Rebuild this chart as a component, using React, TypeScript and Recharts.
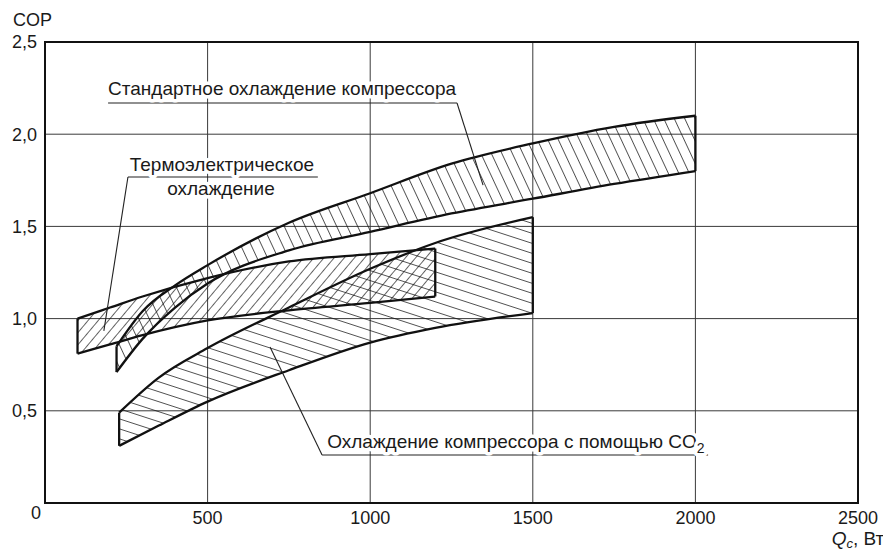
import React from 'react';
import {
  ComposedChart,
  Area,
  XAxis,
  YAxis,
  CartesianGrid,
  ReferenceLine,
  ReferenceDot,
  ReferenceArea,
} from 'recharts';

// ---- data (COP vs Qc, W) ----
const stdX = [220, 300, 400, 500, 750, 1000, 1250, 1500, 1750, 2000];
const stdLow = [0.71, 0.89, 1.06, 1.19, 1.37, 1.47, 1.57, 1.65, 1.73, 1.8];
const stdHigh = [0.85, 1.04, 1.18, 1.29, 1.52, 1.68, 1.84, 1.95, 2.04, 2.1];

const thermoX = [100, 200, 300, 500, 750, 1000, 1200];
const thermoLow = [0.81, 0.86, 0.91, 0.99, 1.045, 1.085, 1.12];
const thermoHigh = [1.0, 1.06, 1.12, 1.22, 1.31, 1.35, 1.38];

const co2X = [228, 350, 500, 750, 1000, 1200, 1500];
const co2Low = [0.31, 0.42, 0.55, 0.72, 0.87, 0.95, 1.03];
const co2High = [0.49, 0.68, 0.84, 1.06, 1.27, 1.41, 1.55];

const xTicks = [0, 500, 1000, 1500, 2000, 2500];
const yTicks = [0.5, 1.0, 1.5, 2.0, 2.5];

const stdLabel = 'Стандартное охлаждение компрессора';
const thermoLabel1 = 'Термоэлектрическое';
const thermoLabel2 = 'охлаждение';
const co2Label = 'Охлаждение компрессора с помощью CO';
const yTitle = 'COP';

const FONT = '"Liberation Sans", Arial, Helvetica, sans-serif';
const TXT = '#1a1a1a';

const band = (xs: number[], lo: number[], hi: number[]) =>
  xs.map((x, i) => ({ x, range: [lo[i], hi[i]] }));

const stdData = band(stdX, stdLow, stdHigh);
const thermoData = band(thermoX, thermoLow, thermoHigh);
const co2Data = band(co2X, co2Low, co2High);

const endCaps = (xs: number[], lo: number[], hi: number[]) => {
  const n = xs.length - 1;
  return [
    [{ x: xs[0], y: lo[0] }, { x: xs[0], y: hi[0] }],
    [{ x: xs[n], y: lo[n] }, { x: xs[n], y: hi[n] }],
  ];
};

const caps = [
  ...endCaps(stdX, stdLow, stdHigh),
  ...endCaps(thermoX, thermoLow, thermoHigh),
  ...endCaps(co2X, co2Low, co2High),
];

const fmtY = (v: number) => v.toFixed(1).replace('.', ',');

const XTick = (props: any) => {
  const { x, y, payload } = props;
  const zero = payload.value === 0;
  return (
    <text
      x={zero ? x - 9 : x}
      y={zero ? y - 5 : y}
      dy="0.71em"
      textAnchor="middle"
      fontFamily={FONT}
      fontSize={18}
      fill={TXT}
    >
      {payload.value}
    </text>
  );
};

const AnnText = (props: any) => {
  const { viewBox, text, sub } = props;
  if (!viewBox) return null;
  return (
    <text
      x={viewBox.x}
      y={viewBox.y}
      textAnchor="middle"
      dominantBaseline="central"
      fontFamily={FONT}
      fontSize={19}
      fill={TXT}
      stroke="#fff"
      strokeWidth={7}
      paintOrder="stroke"
      strokeLinejoin="round"
    >
      {text}
      {sub ? (
        <tspan dy={6} fontSize={14}>
          {sub}
        </tspan>
      ) : null}
    </text>
  );
};

const XTitle = (props: any) => {
  const { viewBox } = props;
  if (!viewBox) return null;
  return (
    <text
      x={viewBox.x + viewBox.width}
      y={viewBox.y + 35}
      textAnchor="middle"
      dominantBaseline="central"
      fontFamily={FONT}
      fontSize={19}
      fill={TXT}
    >
      <tspan fontStyle="italic">Q</tspan>
      <tspan dy={5} fontSize={13} fontStyle="italic">c</tspan>
      <tspan dy={-5}>, Вт</tspan>
    </text>
  );
};

const YTitle = (props: any) => {
  const { viewBox } = props;
  if (!viewBox) return null;
  return (
    <text
      x={viewBox.x + 13}
      y={viewBox.y - 22}
      textAnchor="start"
      dominantBaseline="central"
      fontFamily={FONT}
      fontSize={18}
      fill={TXT}
    >
      {yTitle}
    </text>
  );
};

const leaderStyle = { stroke: '#222', strokeWidth: 1.1 };

export default function App() {
  return (
    <div style={{ position: 'absolute', left: 0, top: 0, background: '#fff' }}>
      <ComposedChart
        width={883}
        height={549}
        margin={{ top: 42, right: 25, bottom: 16, left: 0 }}
      >
        <defs>
          <pattern
            id="hStd"
            patternUnits="userSpaceOnUse"
            width={9.5}
            height={20}
            patternTransform="rotate(-25)"
          >
            <line x1={0} y1={0} x2={0} y2={20} stroke="#111" strokeWidth={1.4} />
          </pattern>
          <pattern
            id="hThermo"
            patternUnits="userSpaceOnUse"
            width={7.8}
            height={20}
            patternTransform="rotate(40)"
          >
            <line x1={0} y1={0} x2={0} y2={20} stroke="#111" strokeWidth={1.3} />
          </pattern>
          <pattern
            id="hCo2"
            patternUnits="userSpaceOnUse"
            width={20}
            height={9.5}
            patternTransform="rotate(18)"
          >
            <line x1={0} y1={0} x2={20} y2={0} stroke="#111" strokeWidth={1.4} />
          </pattern>
        </defs>

        <CartesianGrid stroke="#3a3a3a" strokeWidth={1} />
        <XAxis
          type="number"
          dataKey="x"
          domain={[0, 2500]}
          ticks={xTicks}
          interval={0}
          axisLine={false}
          tickLine={false}
          height={30}
          tick={<XTick />}
          label={<XTitle />}
          allowDataOverflow
        />
        <YAxis
          type="number"
          domain={[0, 2.5]}
          ticks={yTicks}
          interval={0}
          axisLine={false}
          tickLine={false}
          width={45}
          tickFormatter={fmtY}
          tick={{ fontFamily: FONT, fontSize: 18, fill: TXT }}
          label={<YTitle />}
          allowDataOverflow
        />

        <Area
          data={co2Data}
          dataKey="range"
          type="monotone"
          stroke="#111"
          strokeWidth={2.3}
          fill="url(#hCo2)"
          fillOpacity={1}
          isAnimationActive={false}
          dot={false}
          activeDot={false}
        />
        <Area
          data={stdData}
          dataKey="range"
          type="monotone"
          stroke="#111"
          strokeWidth={2.3}
          fill="url(#hStd)"
          fillOpacity={1}
          isAnimationActive={false}
          dot={false}
          activeDot={false}
        />
        <Area
          data={thermoData}
          dataKey="range"
          type="monotone"
          stroke="#111"
          strokeWidth={2.3}
          fill="url(#hThermo)"
          fillOpacity={1}
          isAnimationActive={false}
          dot={false}
          activeDot={false}
        />

        {caps.map((seg, i) => (
          <ReferenceLine key={'cap' + i} segment={seg} stroke="#111" strokeWidth={2.3} />
        ))}

        <ReferenceArea x1={0} x2={2500} y1={0} y2={2.5} fill="none" stroke="#111" strokeWidth={2} />

        {/* standard compressor cooling annotation */}
        <ReferenceLine segment={[{ x: 194, y: 2.169 }, { x: 1267, y: 2.169 }]} {...leaderStyle} />
        <ReferenceLine segment={[{ x: 1267, y: 2.169 }, { x: 1347, y: 1.724 }]} {...leaderStyle} />
        <ReferenceDot x={729} y={2.25} r={0} fill="none" stroke="none" label={<AnnText text={stdLabel} />} />

        {/* thermoelectric annotation */}
        <ReferenceLine segment={[{ x: 255, y: 1.768 }, { x: 839, y: 1.768 }]} {...leaderStyle} />
        <ReferenceLine segment={[{ x: 255, y: 1.768 }, { x: 181, y: 0.933 }]} {...leaderStyle} />
        <ReferenceDot x={544} y={1.833} r={0} fill="none" stroke="none" label={<AnnText text={thermoLabel1} />} />
        <ReferenceDot x={541} y={1.708} r={0} fill="none" stroke="none" label={<AnnText text={thermoLabel2} />} />

        {/* CO2 annotation */}
        <ReferenceLine segment={[{ x: 852, y: 0.26 }, { x: 2039, y: 0.26 }]} {...leaderStyle} />
        <ReferenceLine segment={[{ x: 852, y: 0.26 }, { x: 692, y: 0.846 }]} {...leaderStyle} />
        <ReferenceDot x={1448} y={0.331} r={0} fill="none" stroke="none" label={<AnnText text={co2Label} sub="2" />} />
      </ComposedChart>
    </div>
  );
}
